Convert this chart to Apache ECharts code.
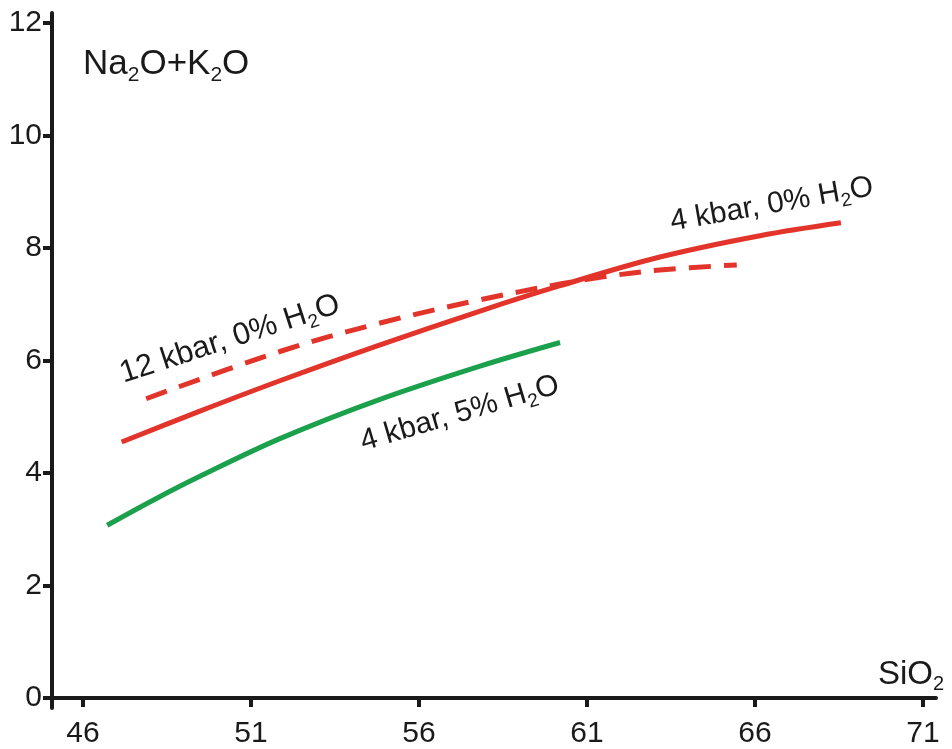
<!DOCTYPE html>
<html>
<head>
<meta charset="utf-8">
<script src="https://cdn.jsdelivr.net/npm/echarts@6/dist/echarts.min.js"></script>
<style>
html,body{margin:0;padding:0;background:#fff;}
#chart{width:952px;height:749px;}
</style>
</head>
<body>
<div id="chart"></div>
<script>
// SiO2 (x) and Na2O+K2O (y) values
var red4kbar0 = [[47.15,4.55],[49.48,5.10],[51.86,5.64],[54.8,6.27],[57.82,6.88],[60.2,7.33],[63.17,7.84],[66.15,8.22],[68.56,8.45]];
var red12kbar0 = [[47.88,5.32],[51.86,6.16],[54.8,6.66],[57.82,7.08],[60.2,7.36],[61.39,7.48],[63.17,7.61],[65.46,7.70]];
var green4kbar5 = [[46.72,3.07],[48.1,3.52],[49.48,3.94],[51.86,4.61],[54.8,5.30],[57.82,5.90],[60.2,6.32]];
var xTicks = [46,51,56,61,66,71];
var yTicks = [0,2,4,6,8,10,12];

var chart = echarts.init(document.getElementById('chart'));
var font = 'Liberation Sans, Arial, sans-serif';
var ink = '#1a1a1a';
var RED = '#e2342a', GREEN = '#1ba14b';

function label(text, left, top, deg, size) {
  return {
    type: 'text', left: left, top: top, rotation: deg * Math.PI / 180,
    style: {
      text: text, fontFamily: font, fontSize: size, fill: ink,
      rich: {
        n: {fontSize: size, fontFamily: font, lineHeight: size + 7, fill: ink},
        s: {fontSize: Math.round(size * 0.62), fontFamily: font, lineHeight: Math.round(size * 0.62), verticalAlign: 'bottom', fill: ink}
      }
    }
  };
}

chart.setOption({
  animation: false,
  backgroundColor: '#fff',
  grid: {left: 52, right: 16, top: 13, bottom: 34},
  xAxis: {
    type: 'value', min: 45.077, max: 71.39,
    splitLine: {show: false},
    axisLine: {show: true, onZero: true, lineStyle: {color: ink, width: 4}},
    axisTick: {show: true, customValues: xTicks, length: 9, lineStyle: {color: ink, width: 4}},
    axisLabel: {customValues: xTicks, color: ink, fontSize: 30, fontFamily: font, margin: 11}
  },
  yAxis: {
    type: 'value', min: -0.18, max: 12.18,
    splitLine: {show: false},
    axisLine: {show: true, onZero: false, lineStyle: {color: ink, width: 4}},
    axisTick: {show: true, customValues: yTicks, length: 9, lineStyle: {color: ink, width: 4}},
    axisLabel: {customValues: yTicks, color: ink, fontSize: 30, fontFamily: font, margin: 10}
  },
  series: [
    {type: 'line', data: red4kbar0, smooth: 0.35, symbol: 'none', lineStyle: {color: RED, width: 5}},
    {type: 'line', data: red12kbar0, smooth: 0.35, symbol: 'none', lineStyle: {color: RED, width: 5, type: [22, 13]}},
    {type: 'line', data: green4kbar5, smooth: 0.35, symbol: 'none', lineStyle: {color: GREEN, width: 5}}
  ],
  graphic: [
    {type: 'text', left: 83, top: 47, style: {
      text: '{n|Na}{s|2}{n|O+K}{s|2}{n|O}', fontFamily: font, fill: ink,
      rich: {
        n: {fontSize: 35, fontFamily: font, lineHeight: 42, fill: ink},
        s: {fontSize: 21, fontFamily: font, lineHeight: 21, verticalAlign: 'bottom', fill: ink}
      }
    }},
    {type: 'text', left: 878, top: 658, style: {
      text: '{n|SiO}{s|2}', fontFamily: font, fill: ink,
      rich: {
        n: {fontSize: 33, fontFamily: font, lineHeight: 40, fill: ink},
        s: {fontSize: 20, fontFamily: font, lineHeight: 20, verticalAlign: 'bottom', fill: ink}
      }
    }},
    label('{n|12 kbar, 0% H}{s|2}{n|O}', 116, 289, 18, 31),
    label('{n|4 kbar, 5% H}{s|2}{n|O}', 357, 370, 16.5, 30),
    label('{n|4 kbar, 0% H}{s|2}{n|O}', 668, 172, 10, 30)
  ]
});
</script>
</body>
</html>
